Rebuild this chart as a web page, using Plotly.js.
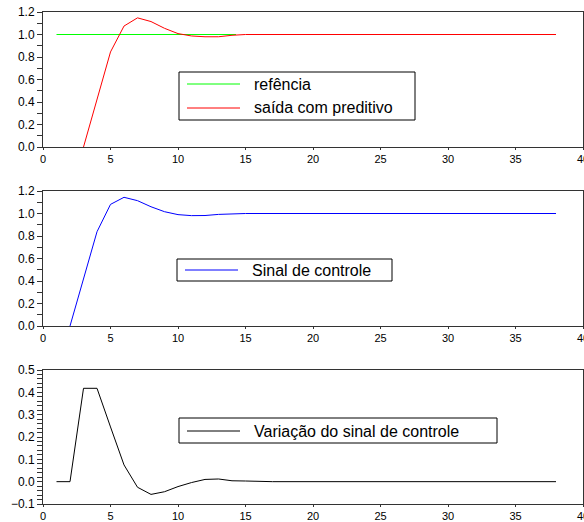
<!DOCTYPE html>
<html>
<head>
<meta charset="utf-8">
<script src="https://cdn.plot.ly/plotly-3.0.1.min.js"></script>
<style>html,body{margin:0;padding:0;background:#fff;}#chart{width:584px;height:522px;}</style>
</head>
<body>
<div id="chart"></div>
<script>
// ---- data ----
const seriesNames = ["refência", "saída com preditivo", "Sinal de controle", "Variação do sinal de controle"];

const refT = [1, 14.3];
const refVals = [1.0, 1.0];

const outT = [3,4,5,6,7,8,9,10,11,12,13,14,15,16,17,18,19,20,21,22,23,24,25,26,27,28,29,30,31,32,33,34,35,36,37,38];
const outVals = [0, 0.42, 0.845, 1.075, 1.148, 1.115, 1.055, 1.008, 0.987, 0.98, 0.98, 0.993, 1.0,
  1,1,1,1,1,1,1,1,1,1,1,1,1,1,1,1,1,1,1,1,1,1,1];

const ctrlT = [2,3,4,5,6,7,8,9,10,11,12,13,14,15,16,17,18,19,20,21,22,23,24,25,26,27,28,29,30,31,32,33,34,35,36,37,38];
const ctrlVals = [0, 0.42, 0.838, 1.081, 1.144, 1.114, 1.06, 1.016, 0.99, 0.981, 0.982, 0.992, 0.998, 1.0,
  1,1,1,1,1,1,1,1,1,1,1,1,1,1,1,1,1,1,1,1,1,1,1];

const dT = [1,2,3,4,5,6,7,8,9,10,11,12,13,14,15,16,17,18,19,20,21,22,23,24,25,26,27,28,29,30,31,32,33,34,35,36,37,38];
const dVals = [0, 0, 0.418, 0.418, 0.245, 0.075, -0.025, -0.057, -0.045, -0.022, -0.004, 0.01, 0.012, 0.004, 0.003,
  0,0,0,0,0,0,0,0,0,0,0,0,0,0,0,0,0,0,0,0,0,0,0];

const xTicks = [0, 5, 10, 15, 20, 25, 30, 35, 40];
const colors = ["#00ff00", "#ff0000", "#0000ff", "#000000"];

// ---- layout geometry ----
const W = 584, H = 522;
const M = {l: 43, r: 1, t: 12, b: 18};
const plotW = W - M.l - M.r, plotH = H - M.t - M.b;
const px = v => (v - M.l) / plotW;
const py = v => (H - M.b - v) / plotH;

const font = "Liberation Sans, Arial, Helvetica, sans-serif";
const axisCol = "#333333";

function xa(anchor) {
  return {
    anchor: anchor, range: [0, 40], tickvals: xTicks, ticks: "outside", ticklen: 2, tickwidth: 1,
    tickcolor: axisCol, showline: true, linecolor: axisCol, linewidth: 1, mirror: true,
    ticklabeloverflow: "allow",
    showgrid: false, zeroline: false, tickfont: {family: font, size: 11, color: "#000"}, fixedrange: true
  };
}
function ya(anchor, dom, range, dtick, minor) {
  return {
    anchor: anchor, domain: dom, range: range, dtick: dtick, tick0: 0, tickformat: ".1f",
    ticks: "outside", ticklen: 5, tickwidth: 1, tickcolor: axisCol,
    minor: {dtick: minor, ticks: "outside", ticklen: 5, tickwidth: 1, tickcolor: axisCol, showgrid: false},
    showline: true, linecolor: axisCol, linewidth: 1, mirror: true,
    showgrid: false, zeroline: false, tickfont: {family: font, size: 12, color: "#000"}, fixedrange: true
  };
}

const traces = [
  {x: refT, y: refVals, xaxis: "x", yaxis: "y", mode: "lines", line: {color: colors[0], width: 1}, name: seriesNames[0]},
  {x: outT, y: outVals, xaxis: "x", yaxis: "y", mode: "lines", line: {color: colors[1], width: 1}, name: seriesNames[1]},
  {x: ctrlT, y: ctrlVals, xaxis: "x2", yaxis: "y2", mode: "lines", line: {color: colors[2], width: 1}, name: seriesNames[2]},
  {x: dT, y: dVals, xaxis: "x3", yaxis: "y3", mode: "lines", line: {color: colors[3], width: 1}, name: seriesNames[3]}
];

// legend boxes (pixel geometry)
const legends = [
  {box: [179, 72, 415, 120], items: [{i: 0, y: 84}, {i: 1, y: 108}]},
  {box: [177, 259, 392, 281], items: [{i: 2, y: 270}]},
  {box: [179, 418, 497, 443], items: [{i: 3, y: 431}]}
];
const shapes = [], annotations = [];
legends.forEach(L => {
  shapes.push({type: "rect", xref: "paper", yref: "paper",
    x0: px(L.box[0]), x1: px(L.box[2]), y0: py(L.box[3]), y1: py(L.box[1]),
    line: {color: "#000", width: 1}, fillcolor: "rgba(255,255,255,0)"});
  L.items.forEach(it => {
    shapes.push({type: "line", xref: "paper", yref: "paper",
      x0: px(L.box[0] + 8), x1: px(L.box[0] + 61), y0: py(it.y), y1: py(it.y),
      line: {color: colors[it.i], width: 1}});
    annotations.push({xref: "paper", yref: "paper", x: px(L.box[0] + 73), y: py(it.y),
      xanchor: "left", yanchor: "middle", showarrow: false, text: seriesNames[it.i],
      font: {family: font, size: 16, color: "#000"}});
  });
});

const layout = {
  width: W, height: H, margin: M, showlegend: false,
  paper_bgcolor: "#fff", plot_bgcolor: "#fff",
  xaxis: xa("y"), xaxis2: xa("y2"), xaxis3: xa("y3"),
  yaxis: ya("x", [py(147), py(12)], [0, 1.2], 0.2, 0.1),
  yaxis2: ya("x2", [py(326), py(191)], [0, 1.2], 0.2, 0.1),
  yaxis3: ya("x3", [py(504), py(370)], [-0.1, 0.5], 0.1, 0.02),
  shapes: shapes, annotations: annotations
};

Plotly.newPlot("chart", traces, layout, {staticPlot: true, displayModeBar: false});
</script>
</body>
</html>
